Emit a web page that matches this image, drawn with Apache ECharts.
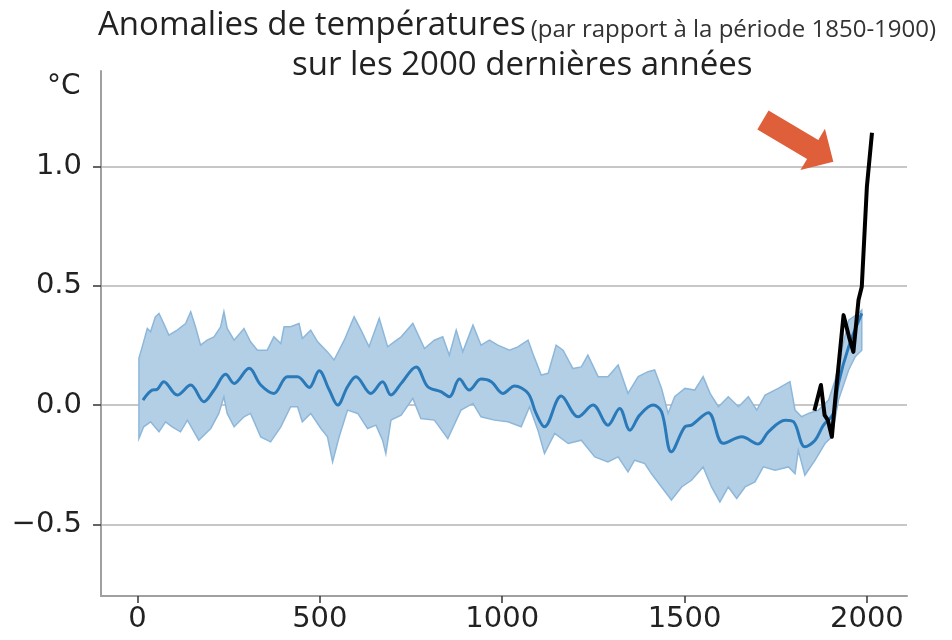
<!DOCTYPE html>
<html>
<head>
<meta charset="utf-8">
<script src="https://cdn.jsdelivr.net/npm/echarts@6/dist/echarts.min.js"></script>
<style>
  html, body { margin: 0; padding: 0; background: #fff; }
  #main { width: 952px; height: 640px; }
</style>
</head>
<body>
<div id="main"></div>
<script>
// reconstruction moyenne (annee, anomalie en °C)
var meanLine = [
    [15, 0.021], [40, 0.063], [54, 0.066], [72, 0.098], [109, 0.042], [146, 0.084], [182, 0.014],
    [210, 0.063], [242, 0.129], [265, 0.091], [306, 0.154], [338, 0.084], [374, 0.049], [411, 0.119],
    [439, 0.119], [471, 0.074], [498, 0.144], [526, 0.063], [549, 0.0], [576, 0.077], [599, 0.119],
    [640, 0.049], [672, 0.098], [695, 0.042], [723, 0.091], [764, 0.160], [796, 0.077], [832, 0.056],
    [855, 0.035], [883, 0.109], [910, 0.063], [942, 0.109], [970, 0.098], [1002, 0.049], [1034, 0.080],
    [1071, 0.049], [1093, -0.035], [1116, -0.091], [1162, 0.038], [1208, -0.049], [1249, 0.0],
    [1290, -0.084], [1322, -0.014], [1350, -0.105], [1377, -0.042], [1414, 0.0], [1437, -0.028],
    [1464, -0.196], [1501, -0.091], [1519, -0.084], [1565, -0.032], [1606, -0.160], [1657, -0.133],
    [1702, -0.163], [1730, -0.112], [1776, -0.063], [1799, -0.070], [1830, -0.175], [1858, -0.147],
    [1881, -0.084], [1908, -0.035], [1922, 0.091], [1950, 0.244], [1986, 0.384]
];

// bord superieur de l'intervalle
var bandUpper = [
    [4, 0.196], [13, 0.244], [27, 0.321], [36, 0.307], [49, 0.370], [59, 0.384], [72, 0.342], [86, 0.293],
    [109, 0.314], [132, 0.342], [146, 0.391], [159, 0.328], [173, 0.251], [191, 0.272], [210, 0.286],
    [228, 0.328], [237, 0.391], [246, 0.321], [265, 0.272], [292, 0.321], [310, 0.265], [329, 0.230],
    [356, 0.230], [374, 0.286], [393, 0.258], [402, 0.328], [420, 0.328], [443, 0.342], [452, 0.279],
    [475, 0.314], [494, 0.265], [521, 0.223], [539, 0.189], [567, 0.272], [594, 0.370], [613, 0.314],
    [635, 0.244], [663, 0.363], [686, 0.244], [704, 0.265], [723, 0.286], [755, 0.342], [787, 0.237],
    [814, 0.272], [837, 0.286], [855, 0.209], [874, 0.314], [892, 0.223], [920, 0.335], [942, 0.251],
    [965, 0.272], [988, 0.251], [1020, 0.230], [1043, 0.244], [1071, 0.272], [1084, 0.216], [1107, 0.126],
    [1126, 0.133], [1148, 0.251], [1167, 0.230], [1194, 0.153], [1217, 0.160], [1235, 0.209], [1263, 0.119],
    [1290, 0.119], [1318, 0.168], [1345, 0.049], [1373, 0.119], [1400, 0.140], [1418, 0.147], [1437, 0.070],
    [1455, -0.035], [1473, 0.035], [1501, 0.070], [1528, 0.063], [1551, 0.119], [1570, 0.049], [1593, -0.007],
    [1620, 0.035], [1648, -0.007], [1675, 0.035], [1698, -0.021], [1721, 0.042], [1757, 0.070], [1789, 0.098],
    [1803, -0.021], [1821, -0.049], [1840, -0.035], [1867, -0.021], [1895, 0.021], [1913, 0.105],
    [1931, 0.230], [1950, 0.356], [1977, 0.384], [1986, 0.398]
];

// bord inferieur de l'intervalle
var bandLower = [
    [4, -0.140], [17, -0.091], [36, -0.070], [59, -0.112], [77, -0.070], [95, -0.091], [118, -0.112],
    [137, -0.063], [168, -0.147], [201, -0.098], [223, -0.035], [237, 0.035], [246, -0.035], [265, -0.091],
    [292, -0.049], [310, -0.035], [338, -0.133], [365, -0.154], [393, -0.091], [420, -0.007], [439, -0.007],
    [452, -0.070], [475, -0.035], [503, -0.098], [521, -0.133], [535, -0.238], [553, -0.133], [576, -0.021],
    [604, -0.035], [631, -0.098], [654, -0.084], [672, -0.147], [681, -0.203], [695, -0.063], [723, -0.042],
    [755, 0.028], [777, -0.056], [814, -0.063], [851, -0.140], [887, -0.021], [920, 0.007], [942, -0.049],
    [979, -0.063], [1016, -0.070], [1052, -0.091], [1075, -0.007], [1098, -0.105], [1116, -0.203],
    [1144, -0.119], [1181, -0.161], [1217, -0.147], [1254, -0.217], [1290, -0.238], [1318, -0.217],
    [1345, -0.280], [1363, -0.231], [1391, -0.245], [1409, -0.287], [1437, -0.343], [1464, -0.398],
    [1492, -0.343], [1519, -0.315], [1551, -0.259], [1574, -0.343], [1597, -0.406], [1620, -0.343],
    [1643, -0.391], [1666, -0.343], [1693, -0.322], [1716, -0.259], [1748, -0.273], [1785, -0.259],
    [1803, -0.287], [1812, -0.189], [1830, -0.294], [1858, -0.231], [1885, -0.161], [1904, -0.133],
    [1922, 0.021], [1950, 0.147], [1968, 0.203], [1986, 0.230]
];

// mesures instrumentales
var observed = [
    [1856, -0.024], [1874, 0.084], [1884, -0.042], [1893, -0.063], [1904, -0.133], [1913, 0.021],
    [1936, 0.377], [1951, 0.286], [1963, 0.223], [1977, 0.44], [1986, 0.496], [2000, 0.915], [2014, 1.141]
];

var xTicks = [0, 500, 1000, 1500, 2000];
var yTicks = [-0.5, 0, 0.5, 1.0];

var chart = echarts.init(document.getElementById('main'));

var tickFont = 'DejaVu Sans';

var option = {
    animation: false,
    backgroundColor: '#fff',
    title: [{
        left: 93,
        top: 0,
        text: '{a|Anomalies de températures} {b|(par rapport à la période 1850-1900)}',
        textStyle: {
            rich: {
                a: { fontFamily: 'Open Sans', fontSize: 33, fontWeight: 'normal', color: '#222', verticalAlign: 'bottom', lineHeight: 37 },
                b: { fontFamily: 'Open Sans', fontSize: 24, fontWeight: 'normal', color: '#333', verticalAlign: 'bottom', lineHeight: 34 }
            }
        }
    }, {
        left: 287,
        top: 44,
        text: 'sur les 2000 dernières années',
        textStyle: { fontFamily: 'Open Sans', fontSize: 33, fontWeight: 'normal', color: '#222' }
    }, {
        left: 42,
        top: 68,
        text: '°C',
        textStyle: { fontFamily: tickFont, fontSize: 28, fontWeight: 'normal', color: '#222' }
    }],
    grid: {
        left: 101,
        right: 45,
        top: 71,
        bottom: 44,
        outerBoundsMode: 'none'
    },
    xAxis: {
        type: 'value',
        min: -100,
        max: 2110,
        axisLine: { onZero: false, lineStyle: { color: '#a0a0a0', width: 2 } },
        axisTick: { customValues: xTicks, length: 7, lineStyle: { color: '#333', width: 1.5 } },
        axisLabel: {
            customValues: xTicks,
            margin: 9,
            fontFamily: tickFont,
            fontSize: 29,
            color: '#222',
            formatter: function (v) { return String(v); }
        },
        splitLine: { show: false }
    },
    yAxis: {
        type: 'value',
        min: -0.8,
        max: 1.4,
        axisLine: { show: true, onZero: false, lineStyle: { color: '#a0a0a0', width: 2 } },
        axisTick: { show: true, customValues: yTicks, length: 8, lineStyle: { color: '#333', width: 1.5 } },
        axisLabel: {
            customValues: yTicks,
            margin: 19,
            fontFamily: tickFont,
            fontSize: 29,
            color: '#222',
            formatter: function (v) {
                return (v < 0 ? '\u2212' : '') + Math.abs(v).toFixed(1);
            }
        },
        splitLine: { show: true, lineStyle: { color: '#b4b4b4', width: 1.5 } }
    },
    series: [{
        type: 'custom',
        name: 'intervalle',
        coordinateSystem: 'cartesian2d',
        data: [[0, 0]],
        z: 1,
        renderItem: function (params, api) {
            var pts = [];
            bandUpper.forEach(function (p) { pts.push(api.coord(p)); });
            for (var i = bandLower.length - 1; i >= 0; i--) {
                pts.push(api.coord(bandLower[i]));
            }
            return {
                type: 'polygon',
                shape: { points: pts },
                style: { fill: '#b3cfe6', stroke: '#8db7da', lineWidth: 1.5 }
            };
        }
    }, {
        type: 'line',
        name: 'reconstruction',
        data: meanLine,
        showSymbol: false,
        smooth: 0.35,
        z: 3,
        lineStyle: { color: '#2a7aba', width: 3 }
    }, {
        type: 'line',
        name: 'observations',
        data: observed,
        showSymbol: false,
        z: 4,
        lineStyle: { color: '#000', width: 4, join: 'round' }
    }]
};

chart.setOption(option);

// fleche orange (annotation)
function drawArrow() {
    var tail = chart.convertToPixel({ gridIndex: 0 }, [1715, 1.195]);
    var tip = chart.convertToPixel({ gridIndex: 0 }, [1908, 1.02]);
    var dx = tip[0] - tail[0], dy = tip[1] - tail[1];
    var len = Math.sqrt(dx * dx + dy * dy);
    var ux = dx / len, uy = dy / len;
    var nx = -uy, ny = ux;
    var shaftW = 11, headW = 24, headL = 24;
    var bx = tip[0] - ux * headL, by = tip[1] - uy * headL;
    var pts = [
        [tail[0] + nx * shaftW, tail[1] + ny * shaftW],
        [bx + nx * shaftW, by + ny * shaftW],
        [bx + nx * headW, by + ny * headW],
        [tip[0], tip[1]],
        [bx - nx * headW, by - ny * headW],
        [bx - nx * shaftW, by - ny * shaftW],
        [tail[0] - nx * shaftW, tail[1] - ny * shaftW]
    ];
    chart.setOption({
        graphic: [{
            type: 'polygon',
            shape: { points: pts },
            style: { fill: '#df5f3a' },
            z: 10
        }]
    });
}
drawArrow();
</script>
</body>
</html>
